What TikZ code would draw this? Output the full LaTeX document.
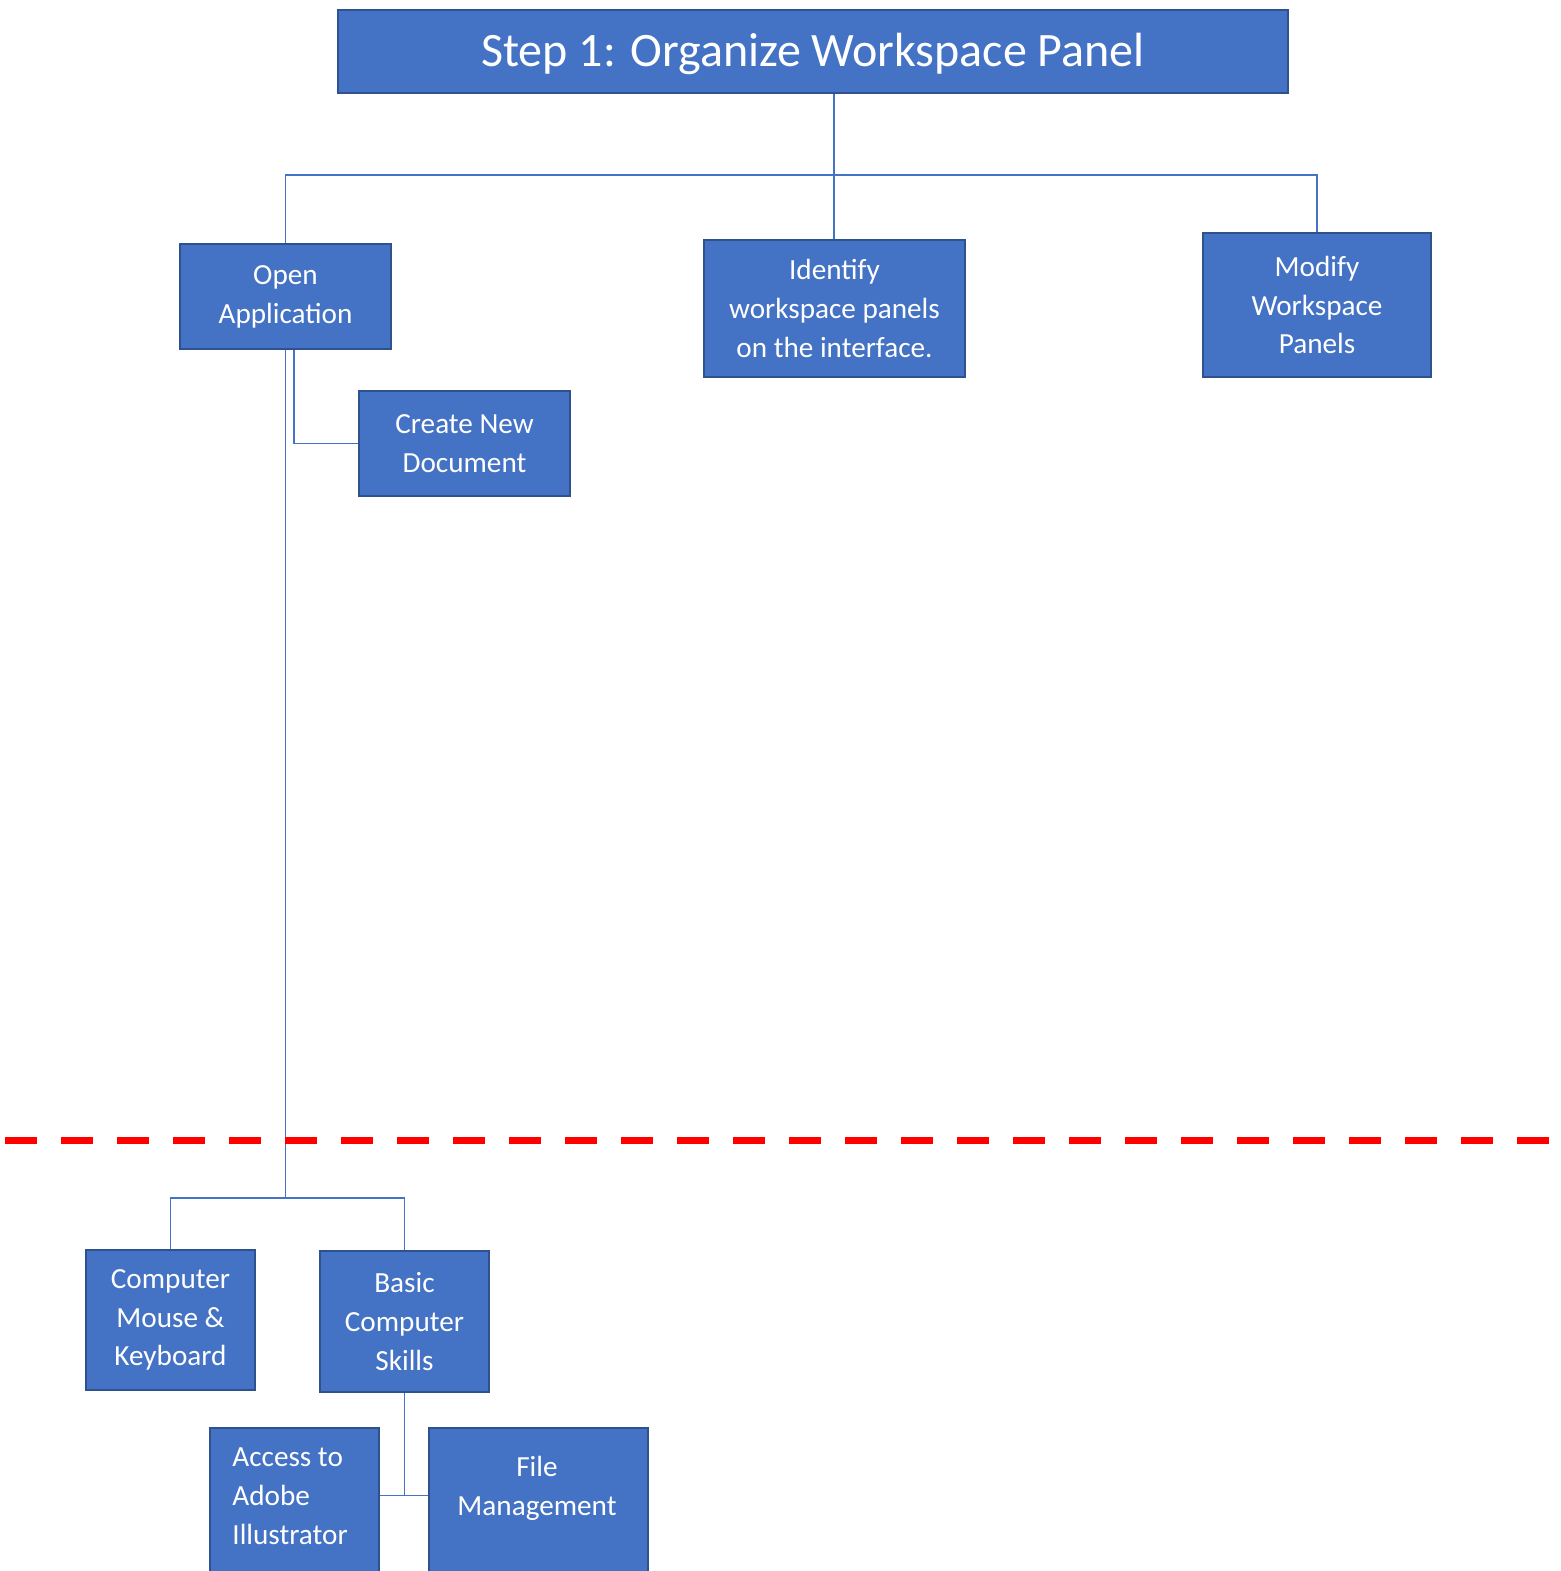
\documentclass[tikz,border=0pt]{standalone}
\usepackage{fontspec}
\setmainfont{Carlito}
\usetikzlibrary{backgrounds}
\definecolor{blu}{HTML}{4472C4}
\definecolor{bord}{HTML}{2F528F}
\definecolor{redd}{HTML}{FF0000}
\begin{document}
\begin{tikzpicture}[x=0.5pt,y=-0.5pt,
  box/.style={draw=bord, fill=blu, line width=1.1pt, text=white, inner sep=0pt, align=center,
    font=\fontsize{14.6}{19.4}\selectfont},
  txt/.style={text=white, inner sep=0pt, font=\fontsize{14.6}{19.4}\selectfont},
  conn/.style={draw=blu, line width=0.75pt}]
\useasboundingbox (0,0) rectangle (1561,1571);
% coordinates
\coordinate (b1) at (834,175);
\coordinate (b2) at (285.5,1198);
\coordinate (j) at (404.5,1495.5);
\coordinate (dl) at (5,1140);
\coordinate (dr) at (1561,1140);
% boxes
\node[box, minimum width=475pt, minimum height=41.5pt] (title) at (813,51.5) {};
\node[txt, font=\fontsize{24}{29}\selectfont] (titlet) at (813,54) {Step 1: Organize Workspace Panel};
\node[box, minimum width=105.5pt, minimum height=52.5pt] (open) at (285.5,296.5) {Open\\Application};
\node[box, minimum width=130.5pt, minimum height=68.5pt] (ident) at (834.5,308.5) {Identify\\workspace panels\\on the interface.};
\node[box, minimum width=114pt, minimum height=72pt] (modify) at (1317,305) {Modify\\Workspace\\Panels};
\node[box, minimum width=105.5pt, minimum height=52.5pt] (create) at (464.5,443.5) {Create New\\Document};
\node[box, minimum width=84.5pt, minimum height=70pt] (mouse) at (170.5,1320) {Computer\\Mouse \&\\Keyboard};
\node[box, minimum width=84.5pt, minimum height=70.5pt] (basic) at (404.5,1321.5) {Basic\\Computer\\Skills};
\node[box, minimum width=84.5pt, minimum height=95pt, anchor=north] (access) at (294.5,1427) {};
\node[txt, align=left, anchor=west] (accesst) at (232,1496) {Access to\\Adobe\\Illustrator};
\node[box, minimum width=109.5pt, minimum height=95pt, anchor=north] (file) at (538.5,1427) {};
\node[txt, align=center] (filet) at (537,1488) {File\\Management};
% connectors behind boxes
\begin{scope}[on background layer]
\draw[conn] (b1 |- title.south) -- (b1);
\draw[conn] (open.north) |- (b1) -| (modify.north);
\draw[conn] (ident.north -| b1) -- (b1);
\draw[conn] ([xshift=4.25pt]open.south) |- (create.west);
\draw[conn] (open.south) -- (b2);
\draw[conn] (mouse.north) |- (b2) -| (basic.north);
\draw[conn] (basic.south) -- (j);
\draw[conn] (access.north east |- j) -- (file.north west |- j);
\draw[redd, line width=3.5pt, dash pattern=on 16pt off 12pt] (dl) -- (dr);
\end{scope}
\end{tikzpicture}
\end{document}
